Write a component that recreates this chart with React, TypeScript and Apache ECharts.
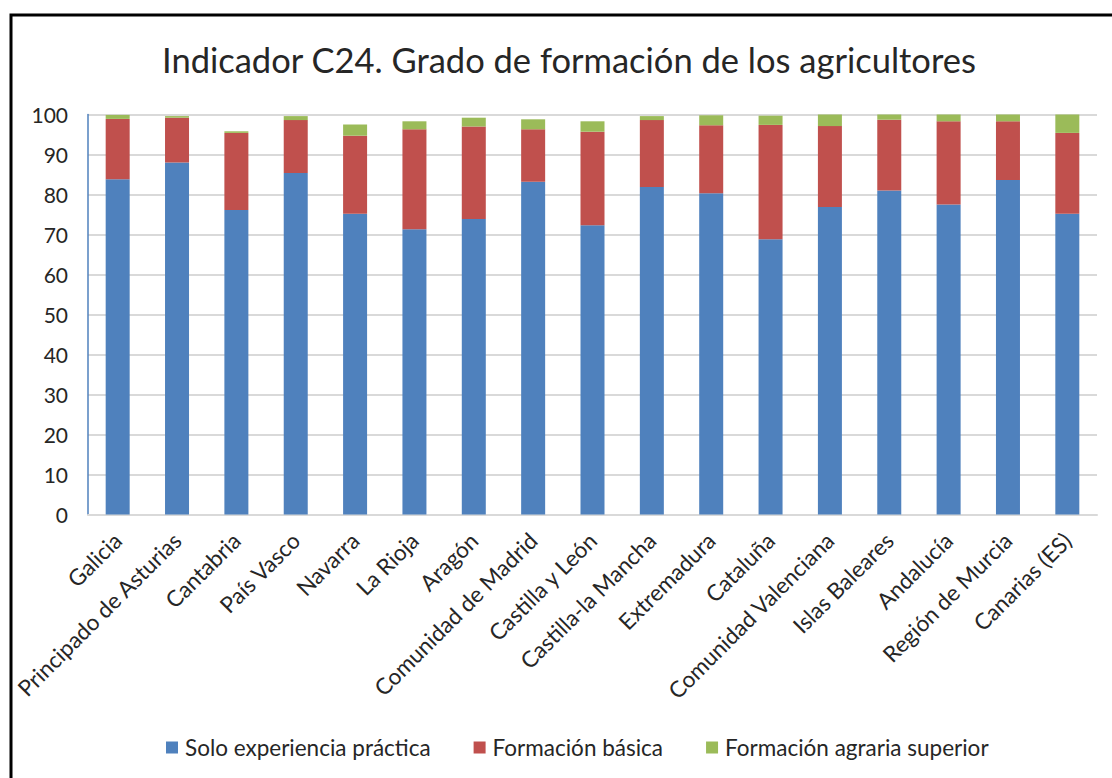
import React, { useEffect, useRef } from "react";
import * as echarts from "echarts";

const categories = [
  "Galicia",
  "Principado de Asturias",
  "Cantabria",
  "País Vasco",
  "Navarra",
  "La Rioja",
  "Aragón",
  "Comunidad de Madrid",
  "Castilla y León",
  "Castilla-la Mancha",
  "Extremadura",
  "Cataluña",
  "Comunidad Valenciana",
  "Islas Baleares",
  "Andalucía",
  "Región de Murcia",
  "Canarias (ES)",
];

const soloExperiencia = [83.8, 88.0, 76.1, 85.4, 75.2, 71.3, 73.9, 83.2, 72.3, 81.9, 80.3, 68.8, 76.9, 81.0, 77.5, 83.6, 75.2];
const formacionBasica = [15.1, 11.2, 19.3, 13.2, 19.5, 25.0, 23.1, 13.1, 23.4, 16.7, 17.0, 28.6, 20.2, 17.7, 20.8, 14.7, 20.2];
const formacionSuperior = [1.0, 0.4, 0.4, 1.0, 2.8, 2.0, 2.2, 2.5, 2.6, 1.0, 2.5, 2.3, 2.9, 1.3, 1.7, 1.7, 4.6];

const seriesNames = ["Solo experiencia práctica", "Formación básica", "Formación agraria superior"];
const colors = ["#4F81BD", "#C0504D", "#9BBB59"];
const titleText = "Indicador C24. Grado de formación de los agricultores";

const FONT = "Lato";

export default function App() {
  const ref = useRef<HTMLDivElement>(null);
  useEffect(() => {
    if (!ref.current) return;
    const chart = echarts.init(ref.current, undefined, { renderer: "svg" });
    const dataSets = [soloExperiencia, formacionBasica, formacionSuperior];
    chart.setOption({
      animation: false,
      backgroundColor: "#ffffff",
      textStyle: { fontFamily: FONT },
      graphic: [
        {
          type: "rect",
          shape: { x: 11, y: 15, width: 1110, height: 790 },
          style: { fill: "none", stroke: "#000000", lineWidth: 3 },
          silent: true,
          z: 100,
        },
      ],
      title: {
        text: titleText,
        left: 162,
        top: 42,
        padding: 0,
        textStyle: { fontFamily: FONT, fontSize: 34.5, fontWeight: "normal", color: "#262626" },
      },
      legend: {
        left: 161,
        top: 731,
        itemWidth: 12,
        itemHeight: 12,
        itemGap: 43,
        icon: "rect",
        textStyle: { fontFamily: FONT, fontSize: 22.5, color: "#262626", padding: [0, 0, 0, 2] },
        data: seriesNames,
      },
      grid: { left: 88, right: 15, top: 114.5, bottom: 263.5, containLabel: false },
      xAxis: {
        type: "category",
        data: categories,
        axisLine: { show: true, lineStyle: { color: "#d9d9d9", width: 2 } },
        axisTick: { show: false },
        axisLabel: {
          rotate: 45,
          interval: 0,
          margin: 22,
          fontFamily: FONT,
          fontSize: 22.5,
          color: "#262626",
        },
      },
      yAxis: {
        type: "value",
        min: 0,
        max: 100,
        interval: 10,
        axisLine: { show: true, lineStyle: { color: "#4F81BD", width: 1.5 } },
        axisTick: { show: false },
        axisLabel: { margin: 20, fontFamily: FONT, fontSize: 21, color: "#262626" },
        splitLine: { show: true, lineStyle: { color: "#d9d9d9", width: 2 } },
      },
      series: seriesNames.map((name, i) => ({
        name,
        type: "bar",
        stack: "total",
        barWidth: 24,
        data: dataSets[i],
        itemStyle: { color: colors[i] },
      })),
    });
    return () => chart.dispose();
  }, []);
  return (
    <div
      ref={ref}
      style={{ position: "fixed", left: 0, top: 0, width: 1112, height: 778 }}
    />
  );
}
